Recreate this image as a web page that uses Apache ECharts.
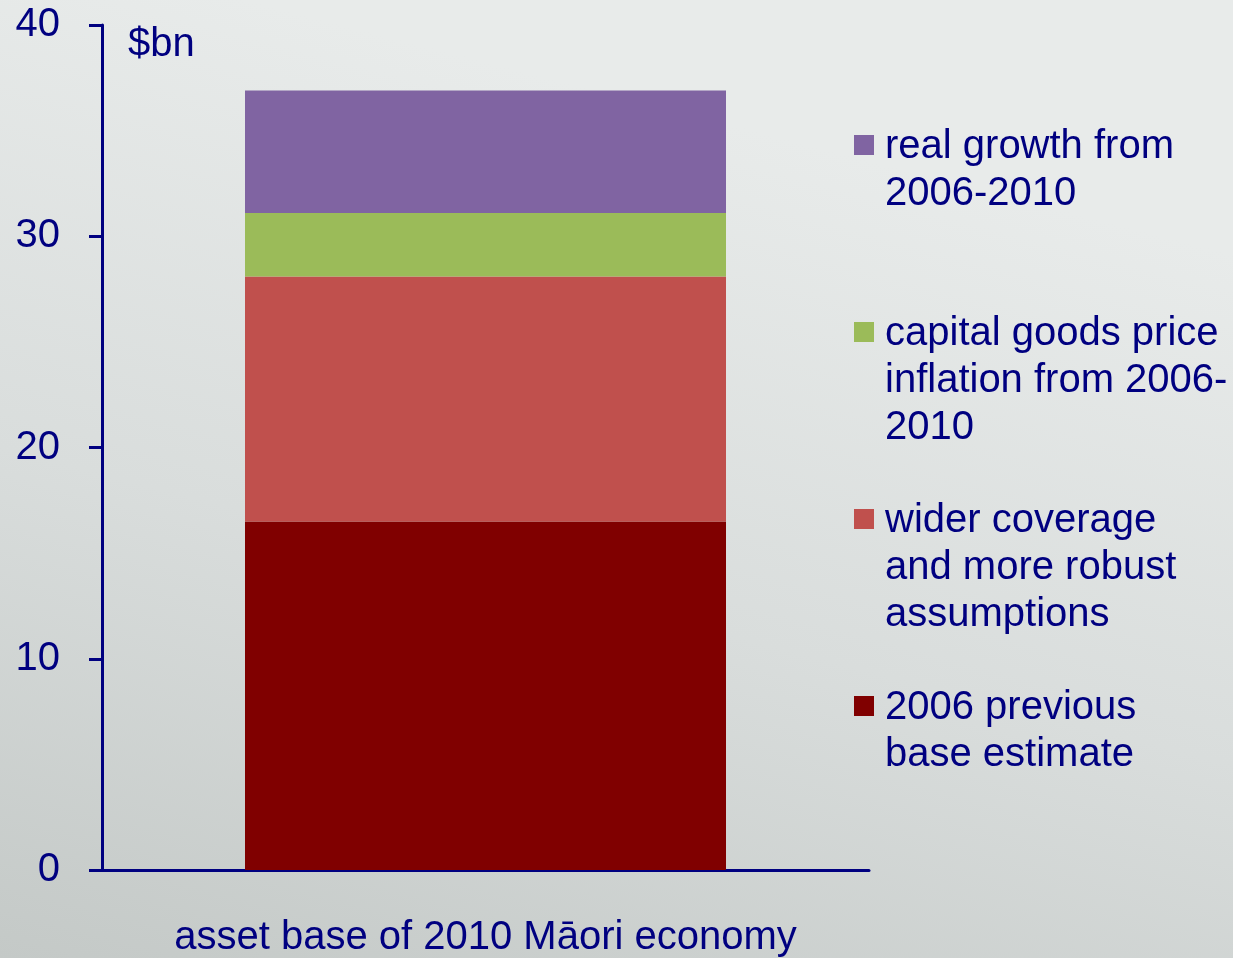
<!DOCTYPE html>
<html>
<head>
<meta charset="utf-8">
<script src="https://cdn.jsdelivr.net/npm/echarts@6/dist/echarts.min.js"></script>
<style>
html,body{margin:0;padding:0;width:1233px;height:958px;overflow:hidden;}
#chart{width:1233px;height:958px;}
</style>
</head>
<body>
<div id="chart"></div>
<script>
// ---- data ----
const categories = ['asset base of 2010 Māori economy'];
const seriesNames = [
  '2006 previous base estimate',
  'wider coverage and more robust assumptions',
  'capital goods price inflation from 2006-2010',
  'real growth from 2006-2010'
];
const legendLabels = {
  '2006 previous base estimate': '2006 previous\nbase estimate\n',
  'wider coverage and more robust assumptions': 'wider coverage\nand more robust\nassumptions',
  'capital goods price inflation from 2006-2010': 'capital goods price\ninflation from 2006-\n2010',
  'real growth from 2006-2010': 'real growth from\n2006-2010\n'
};
const baseEstimate = [16.5];
const widerCoverage = [11.6];
const capitalInflation = [3.0];
const realGrowth = [5.8];
const yTicks = [0, 10, 20, 30, 40];
const unitLabel = '$bn';

const seriesValues = [baseEstimate, widerCoverage, capitalInflation, realGrowth];
const colors = ['#800000', '#C0504D', '#9BBB59', '#8064A2'];
const navy = '#000080';
const font = '"Liberation Sans", Arial, sans-serif';

const chart = echarts.init(document.getElementById('chart'));
const iconPath = 'path://M0,0h0.01v0.01h-0.01z M0,12h20v20h-20z M0,141h0.01v0.01h-0.01z';

chart.setOption({
  backgroundColor: {
    type: 'linear', x: 0.2, y: 0, x2: 0, y2: 1,
    colorStops: [
      { offset: 0, color: '#e8ebea' },
      { offset: 0.5, color: '#d9dddc' },
      { offset: 1, color: '#c4c9c7' }
    ]
  },
  animation: false,
  grid: { left: 102, right: 364, top: 25, bottom: 88, containLabel: false },
  legend: {
    orient: 'vertical',
    left: 854,
    top: 123,
    padding: 0,
    itemGap: 46,
    itemWidth: 20,
    itemHeight: 141,
    icon: iconPath,
    selectedMode: false,
    data: seriesNames.slice().reverse(),
    formatter: function (name) { return legendLabels[name]; },
    textStyle: {
      color: navy, fontFamily: font, fontSize: 40, lineHeight: 47,
      padding: [0, 0, 0, 6]
    }
  },
  xAxis: {
    type: 'category',
    data: categories,
    axisLine: { lineStyle: { color: navy, width: 3 } },
    axisTick: { show: false },
    axisLabel: { color: navy, fontFamily: font, fontSize: 40, margin: 48 }
  },
  yAxis: {
    type: 'value',
    min: 0, max: 40, interval: 10,
    name: unitLabel,
    nameLocation: 'end',
    nameGap: 0,
    nameTextStyle: {
      color: navy, fontFamily: font, fontSize: 40, lineHeight: 40,
      align: 'left', verticalAlign: 'top', padding: [0, 0, 0, 26]
    },
    axisLine: { show: true, lineStyle: { color: navy, width: 3 } },
    axisTick: { show: true, length: 13, lineStyle: { color: navy, width: 3 } },
    splitLine: { show: false },
    axisLabel: {
      color: navy, fontFamily: font, fontSize: 40, margin: 42,
      formatter: function (v) { return yTicks.indexOf(v) >= 0 ? String(v) : ''; }
    }
  },
  series: seriesNames.map(function (n, i) {
    return {
      name: n,
      type: 'bar',
      stack: 'total',
      barWidth: 481,
      itemStyle: { color: colors[i] },
      data: seriesValues[i]
    };
  })
});
</script>
</body>
</html>
